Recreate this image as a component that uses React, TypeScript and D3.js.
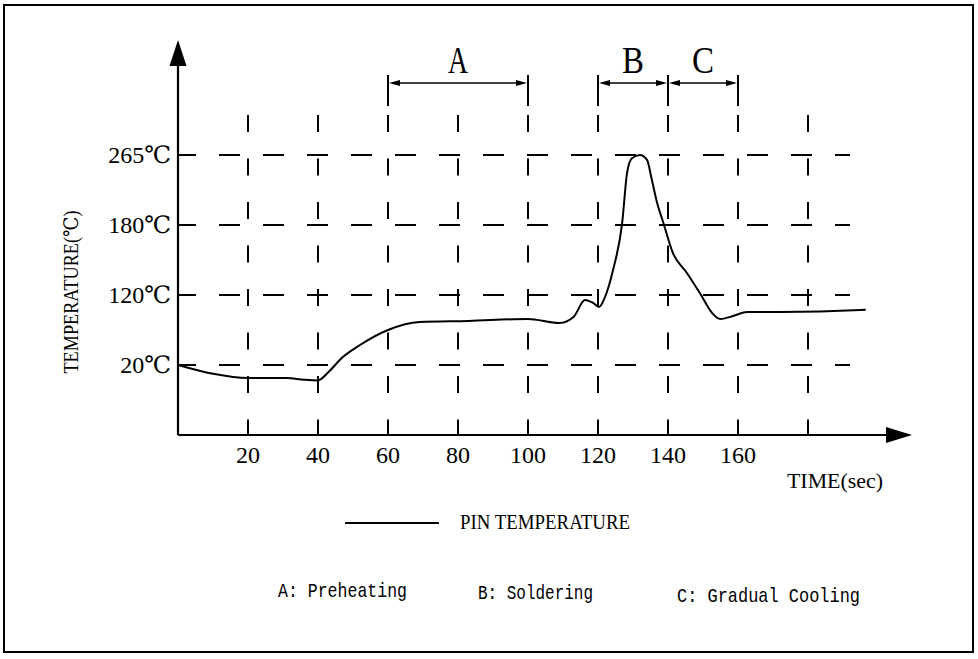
import React from "react";
import * as d3 from "d3";

// time (sec) and pin temperature (°C)
const times = [0, 10, 20, 31, 36, 40, 43, 47, 52, 60, 69, 83, 100, 109, 113, 116.3, 118.6, 120.3, 122, 124.3, 126.9, 128.3, 129.7, 132, 134, 135.4, 136.9, 138.6, 141.4, 145.4, 149.1, 152.6, 154.9, 158.6, 162.6, 172, 195, 196.5];
const temps = [20, 17.5, 16.3, 16.3, 15.8, 15.6, 18, 31, 48.6, 70, 81.4, 83, 85.7, 80, 88.6, 112.9, 108.6, 102.9, 117, 141.4, 182.4, 243, 261, 265, 259, 234.6, 206.7, 183.6, 156, 138.9, 121.7, 94.3, 85.7, 90, 95.7, 95.7, 98.6, 99];

const xTicks = [20, 40, 60, 80, 100, 120, 140, 160];
const xGrid = [20, 40, 60, 80, 100, 120, 140, 160, 180];
const yLevels = [20, 120, 180, 265];
const yLabels = ["20℃", "120℃", "180℃", "265℃"];

const phaseNames = ["A", "B", "C"];
const phaseStart = [60, 120, 140];
const phaseEnd = [100, 140, 160];

const notes = ["A: Preheating", "B: Soldering", "C: Gradual Cooling"];

const W = 978;
const H = 659;
const serif = "'Liberation Serif', 'DejaVu Serif', serif";
const mono = "'Liberation Mono', 'DejaVu Sans Mono', monospace";

export default function App() {
  const x = d3.scaleLinear().domain([0, 200]).range([178, 878]);
  const y = d3.scaleLinear().domain([0, 20, 120, 180, 265]).range([435, 365, 295, 225, 155]);

  const x0 = x(0);
  const y0 = y(0);
  const gridTop = 115;
  const gridRight = x(192);

  const line = d3
    .line<number>()
    .x((d, i) => x(times[i]))
    .y((d) => y(d))
    .curve(d3.curveMonotoneX);

  const bracketY = 83;
  const noteX = [278, 478, 677];
  const noteW = [129, 115, 183];
  const noteY = [597, 599, 602];

  return (
    <svg width={W} height={H} style={{ position: "absolute", left: 0, top: 0, background: "#fff" }}>
      <rect x={4} y={5} width={969} height={647} fill="none" stroke="#000" strokeWidth={2} />

      {/* dashed grid */}
      <g stroke="#000" strokeWidth={2} fill="none">
        {yLevels.map((v) => (
          <line key={"h" + v} x1={x0} x2={gridRight} y1={y(v)} y2={y(v)} strokeDasharray="21,23" strokeDashoffset={3} />
        ))}
        {xGrid.map((t) => (
          <line key={"v" + t} x1={x(t)} x2={x(t)} y1={gridTop} y2={y0} strokeDasharray="17,26.5" />
        ))}
      </g>

      {/* axes */}
      <g stroke="#000" strokeWidth={2.2}>
        <line x1={x0} x2={x0} y1={y0} y2={62} />
        <line x1={x0} x2={890} y1={y0} y2={y0} />
      </g>
      <path d={`M${x0},40 L${x0 - 8.5},66 L${x0 + 8.5},66 Z`} fill="#000" />
      <path d={`M912,${y0} L886,${y0 - 8} L886,${y0 + 8} Z`} fill="#000" />

      {/* y labels */}
      <g fontFamily={serif} fontSize={24} textAnchor="end">
        {yLevels.map((v, i) => (
          <text key={v} x={171} y={y(v) + 8}>
            {yLabels[i]}
          </text>
        ))}
      </g>
      <text
        transform={`translate(78,292) rotate(-90)`}
        textAnchor="middle"
        fontFamily={serif}
        fontSize={20}
        textLength={163}
        lengthAdjust="spacingAndGlyphs"
      >
        TEMPERATURE(℃)
      </text>

      {/* x labels */}
      <g fontFamily={serif} fontSize={24} textAnchor="middle">
        {xTicks.map((t) => (
          <text key={t} x={x(t)} y={463}>
            {t}
          </text>
        ))}
      </g>
      <text x={787} y={488} fontFamily={serif} fontSize={22} textLength={96} lengthAdjust="spacingAndGlyphs">
        TIME(sec)
      </text>

      {/* phase brackets */}
      <g stroke="#000" strokeWidth={2}>
        {phaseNames.map((n, i) => (
          <g key={n}>
            <line x1={x(phaseStart[i])} x2={x(phaseStart[i])} y1={75} y2={106} />
            <line x1={x(phaseEnd[i])} x2={x(phaseEnd[i])} y1={75} y2={106} />
            <line x1={x(phaseStart[i]) + 4} x2={x(phaseEnd[i]) - 4} y1={bracketY} y2={bracketY} strokeWidth={1.5} />
          </g>
        ))}
      </g>
      <g fill="#000">
        {phaseNames.map((n, i) => {
          const a = x(phaseStart[i]);
          const b = x(phaseEnd[i]);
          return (
            <g key={n}>
              <path d={`M${a + 1},${bracketY} L${a + 12},${bracketY - 3} L${a + 12},${bracketY + 3} Z`} />
              <path d={`M${b - 1},${bracketY} L${b - 12},${bracketY - 3} L${b - 12},${bracketY + 3} Z`} />
            </g>
          );
        })}
      </g>
      <g fontFamily={serif} fontSize={38} textAnchor="middle">
        {phaseNames.map((n, i) => (
          <text key={n} x={(x(phaseStart[i]) + x(phaseEnd[i])) / 2} y={73} textLength={n === "A" ? 20 : 22} lengthAdjust="spacingAndGlyphs">
            {n}
          </text>
        ))}
      </g>

      {/* temperature curve */}
      <path d={line(temps) || ""} fill="none" stroke="#000" strokeWidth={2} />

      {/* legend */}
      <line x1={345} x2={439} y1={523} y2={523} stroke="#000" strokeWidth={2.2} />
      <text x={460} y={529} fontFamily={serif} fontSize={22} textLength={170} lengthAdjust="spacingAndGlyphs">
        PIN TEMPERATURE
      </text>

      {/* notes */}
      <g fontFamily={mono} fontSize={21}>
        {notes.map((n, i) => (
          <text key={n} x={noteX[i]} y={noteY[i]} textLength={noteW[i]} lengthAdjust="spacingAndGlyphs">
            {n}
          </text>
        ))}
      </g>
    </svg>
  );
}
